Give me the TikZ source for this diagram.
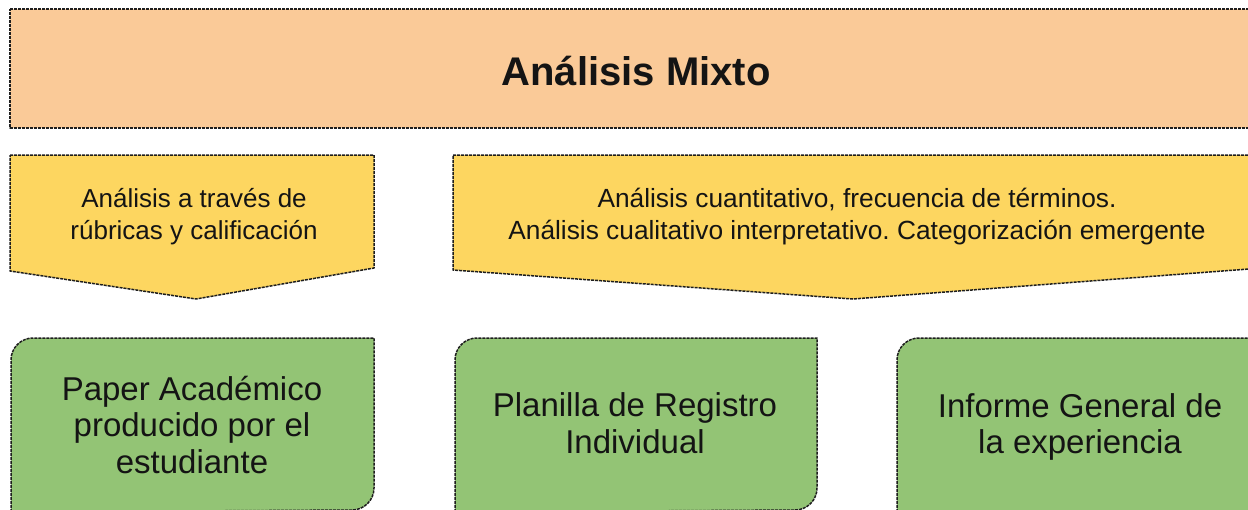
\documentclass[tikz,border=0pt]{standalone}
\usepackage{fontspec}
\setmainfont{Liberation Sans}
\frenchspacing
\definecolor{peach}{RGB}{250,202,152}
\definecolor{gold}{RGB}{253,214,96}
\definecolor{leaf}{RGB}{147,196,117}
\definecolor{edge}{RGB}{30,30,30}
\definecolor{ink}{RGB}{20,20,20}
\tikzset{
  x=1pt,y=1pt,
  outline/.style={draw=edge,line width=1.5pt,dash pattern=on 3pt off 1pt,line join=round},
  titletext/.style={font=\fontsize{40}{46}\selectfont\bfseries,text=ink,inner sep=0pt},
  midtext/.style={font=\fontsize{26}{31.5}\selectfont,text=ink,align=center,inner sep=0pt},
  lowtext/.style={font=\fontsize{33}{36.5}\selectfont,text=ink,align=center,inner sep=0pt}
}
\begin{document}
\begin{tikzpicture}
\useasboundingbox (0,0) rectangle (1248,-509);
\clip (0,0) rectangle (1248,-509);
\fill[white] (0,0) rectangle (1248,-509);
% title band
\path[outline,fill=peach] (10,-9) -- (1262,-9) -- (1262,-128) -- (10,-128) -- cycle;
\node[titletext] (title) at (636,-71) {Análisis Mixto};
% chevrons
\path[outline,fill=gold] (10,-155) -- (374,-155) -- (374,-268) -- (196,-299) -- (10,-271) -- cycle;
\node[midtext] (leftnote) at (194,-216.5) {Análisis a través de\\rúbricas y calificación};
\path[outline,fill=gold] (453,-155) -- (1262,-155) -- (1262,-268) -- (853,-299) -- (453,-270) -- cycle;
\node[midtext,font=\fontsize{26.3}{31.5}\selectfont] (rightnote) at (857,-216.5) {Análisis cuantitativo, frecuencia de términos.\\Análisis cualitativo interpretativo. Categorización emergente};
% green boxes
\path[outline,fill=leaf] (11,-512) -- (11,-360) arc[start angle=180,end angle=90,radius=22] -- (374,-338) -- (374,-488) arc[start angle=0,end angle=-90,radius=22] -- cycle;
\node[lowtext] (paper) at (192,-425) {Paper Académico\\producido por el\\estudiante};
\path[outline,fill=leaf] (455,-512) -- (455,-360) arc[start angle=180,end angle=90,radius=22] -- (817,-338) -- (817,-488) arc[start angle=0,end angle=-90,radius=22] -- cycle;
\node[lowtext] (planilla) at (635,-423) {Planilla de Registro\\Individual};
\path[outline,fill=leaf] (897,-512) -- (897,-360) arc[start angle=180,end angle=90,radius=22] -- (1262,-338) -- (1262,-512) -- cycle;
\node[lowtext] (informe) at (1080,-427) {Informe General de\\la experiencia};
\end{tikzpicture}
\end{document}
